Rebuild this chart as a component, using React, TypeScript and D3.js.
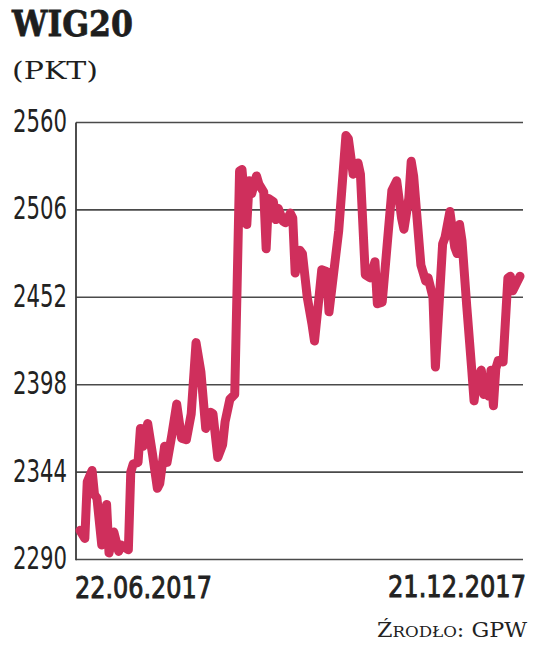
import React from "react";
import * as d3 from "d3";

const dates = [
  "2017-06-22","2017-06-24","2017-06-25","2017-06-27","2017-06-28","2017-06-29","2017-07-01","2017-07-03","2017-07-04","2017-07-06",
  "2017-07-08","2017-07-09","2017-07-12","2017-07-13","2017-07-14","2017-07-16","2017-07-17","2017-07-18","2017-07-20","2017-07-22",
  "2017-07-24","2017-07-25","2017-07-27","2017-07-28","2017-07-30","2017-08-01","2017-08-03","2017-08-05","2017-08-07","2017-08-09",
  "2017-08-11","2017-08-13","2017-08-15","2017-08-16","2017-08-18","2017-08-20","2017-08-21","2017-08-23","2017-08-25","2017-08-26",
  "2017-08-27","2017-08-28","2017-08-30","2017-08-31","2017-09-01","2017-09-03","2017-09-04","2017-09-06","2017-09-07","2017-09-08",
  "2017-09-10","2017-09-11","2017-09-12","2017-09-14","2017-09-15","2017-09-17","2017-09-18","2017-09-19","2017-09-21","2017-09-22",
  "2017-09-24","2017-09-26","2017-09-27","2017-09-29","2017-09-30","2017-10-02","2017-10-03","2017-10-07","2017-10-10","2017-10-11",
  "2017-10-13","2017-10-15","2017-10-16","2017-10-18","2017-10-20","2017-10-22","2017-10-23","2017-10-25","2017-10-29","2017-10-31",
  "2017-11-02","2017-11-03","2017-11-05","2017-11-06","2017-11-07","2017-11-10","2017-11-12","2017-11-13","2017-11-15","2017-11-16",
  "2017-11-19","2017-11-20","2017-11-22","2017-11-24","2017-11-25","2017-11-26","2017-11-27","2017-11-29","2017-12-01","2017-12-02",
  "2017-12-03","2017-12-05","2017-12-06","2017-12-07","2017-12-08","2017-12-09","2017-12-10","2017-12-11","2017-12-12","2017-12-14",
  "2017-12-16","2017-12-17","2017-12-18","2017-12-20","2017-12-21",
];

const values = [
  2308, 2303, 2338, 2345, 2330, 2328, 2299, 2324, 2294, 2307,
  2295, 2299, 2296, 2344, 2349, 2350, 2371, 2360, 2374, 2355,
  2334, 2337, 2360, 2350, 2367, 2386, 2365, 2364, 2380, 2424,
  2406, 2371, 2381, 2380, 2353, 2361, 2375, 2389, 2392, 2460,
  2530, 2531, 2497, 2524, 2516, 2527, 2522, 2517, 2482, 2513,
  2511, 2500, 2507, 2499, 2498, 2504, 2501, 2467, 2481, 2479,
  2452, 2435, 2425, 2454, 2469, 2468, 2443, 2493, 2552, 2550,
  2528, 2535, 2528, 2466, 2464, 2474, 2448, 2449, 2518, 2524,
  2501, 2494, 2513, 2536, 2527, 2472, 2462, 2464, 2452, 2409,
  2485, 2489, 2505, 2483, 2479, 2497, 2487, 2446, 2408, 2388,
  2400, 2407, 2392, 2400, 2391, 2407, 2385, 2408, 2413, 2412,
  2464, 2465, 2456, 2462, 2465,
];

const yTicks = [2290, 2344, 2398, 2452, 2506, 2560];
const xTickLabels = ["22.06.2017", "21.12.2017"];
const title = "WIG20";
const unit = "(PKT)";

const parse = d3.timeParse("%Y-%m-%d");

export default function App() {
  const W = 536;
  const H = 646;
  const left = 76;
  const right = 523;
  const x = d3
    .scaleTime()
    .domain([parse("2017-06-22")!, parse("2017-12-21")!])
    .range([80, 520]);
  const y = d3.scaleLinear().domain([2290, 2560]).range([559.5, 122.5]);

  const data = dates.map((d, i) => ({ date: parse(d)!, value: values[i] }));
  const line = d3
    .line<{ date: Date; value: number }>()
    .x((d) => x(d.date))
    .y((d) => y(d.value));

  const numFont = "'DejaVu Sans Condensed', 'Liberation Sans Narrow', 'DejaVu Sans', sans-serif";

  return (
    <svg
      width={W}
      height={H}
      style={{ position: "absolute", left: 0, top: 0, background: "#fff" }}
    >
      <text
        x={12}
        y={36}
        fontFamily="'DejaVu Serif', serif"
        fontWeight="bold"
        fontSize={36}
        fill="#1e1e1e"
        stroke="#1e1e1e"
        strokeWidth={0.8}
        textLength={121}
        lengthAdjust="spacingAndGlyphs"
      >
        {title}
      </text>
      <text
        x={12}
        y={79}
        fontFamily="'DejaVu Serif', serif"
        fontSize={25}
        fill="#1e1e1e"
        textLength={86}
        lengthAdjust="spacingAndGlyphs"
      >
        {unit}
      </text>

      {yTicks.map((t) => (
        <g key={t}>
          <line
            x1={left}
            x2={right}
            y1={y(t)}
            y2={y(t)}
            stroke="#4a4a4a"
            strokeWidth={1.6}
          />
          <text
            x={13}
            y={y(t) + 9.5}
            fontFamily={numFont}
            fontSize={32}
            fill="#222"
            textLength={54}
            lengthAdjust="spacingAndGlyphs"
          >
            {t}
          </text>
        </g>
      ))}
      <line
        x1={left}
        x2={left}
        y1={y(2560)}
        y2={y(2290) + 0.8}
        stroke="#3a3a3a"
        strokeWidth={1.8}
      />

      <path
        d={line(data) || ""}
        fill="none"
        stroke="#cf2f5c"
        strokeWidth={9}
        strokeLinejoin="round"
        strokeLinecap="round"
      />

      <text
        transform="translate(75,598) scale(1,1.16)"
        fontFamily={numFont}
        fontSize={26.7}
        fill="#222"
        stroke="#222"
        strokeWidth={0.8}
        textLength={137}
        lengthAdjust="spacingAndGlyphs"
      >
        {xTickLabels[0]}
      </text>
      <text
        transform="translate(388,597) scale(1,1.16)"
        fontFamily={numFont}
        fontSize={26.7}
        fill="#222"
        stroke="#222"
        strokeWidth={0.8}
        textLength={138}
        lengthAdjust="spacingAndGlyphs"
      >
        {xTickLabels[1]}
      </text>

      <text
        x={377}
        y={637}
        fontFamily="'DejaVu Serif', serif"
        fill="#222"
        fontSize={20}
        textLength={150}
        lengthAdjust="spacingAndGlyphs"
      >
        <tspan fontSize={20}>Ź</tspan>
        <tspan fontSize={15}>RODŁO</tspan>
        <tspan fontSize={20}>: GPW</tspan>
      </text>
    </svg>
  );
}
